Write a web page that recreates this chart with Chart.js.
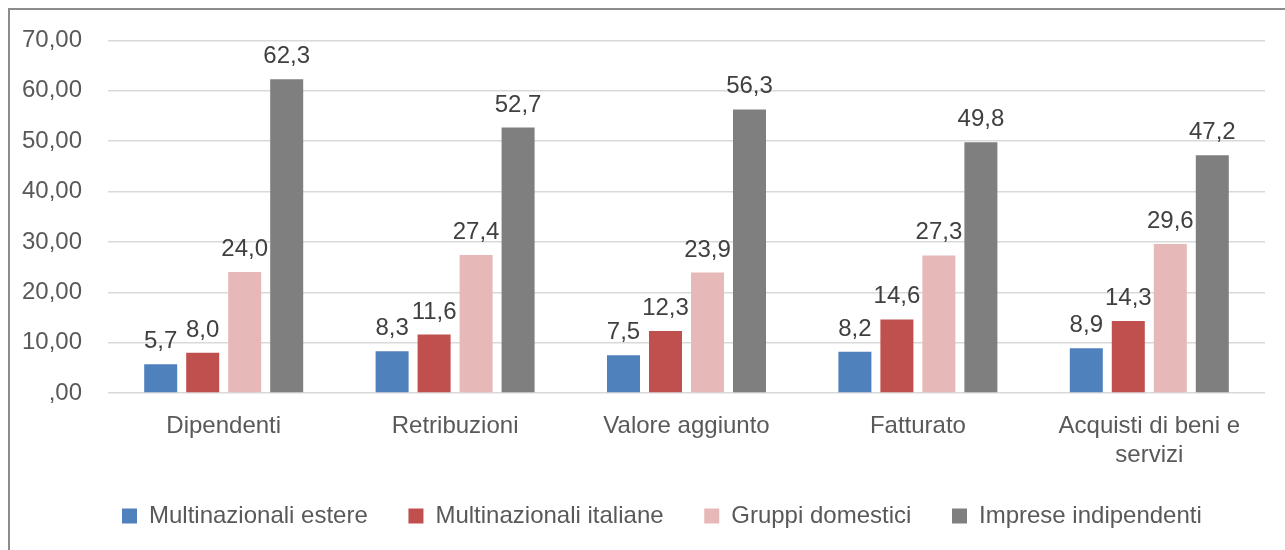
<!DOCTYPE html>
<html>
<head>
<meta charset="utf-8">
<script src="https://cdn.jsdelivr.net/npm/chart.js@4/dist/chart.umd.min.js"></script>
<style>
  html, body { margin: 0; padding: 0; background: #fff; overflow: hidden; }
  .frame {
    position: absolute; left: 8px; top: 8px; width: 1400px; height: 700px;
    border-top: 2px solid #8c8c8c; border-left: 2px solid #8c8c8c;
  }
  #chart { position: absolute; left: 0; top: 0; }
</style>
</head>
<body>
<div class="frame"></div>
<canvas id="chart" width="1285" height="550"></canvas>
<script>
const categories = ['Dipendenti', 'Retribuzioni', 'Valore aggiunto', 'Fatturato', ['Acquisti di beni e', 'servizi']];
const seriesNames = ['Multinazionali estere', 'Multinazionali italiane', 'Gruppi domestici', 'Imprese indipendenti'];
const multinazionaliEstere = [5.7, 8.3, 7.5, 8.2, 8.9];
const multinazionaliItaliane = [8.0, 11.6, 12.3, 14.6, 14.3];
const gruppiDomestici = [24.0, 27.4, 23.9, 27.3, 29.6];
const impreseIndipendenti = [62.3, 52.7, 56.3, 49.8, 47.2];
const colors = ['#4f81bd', '#c0504d', '#e6b9b8', '#7f7f7f'];

const FONT = "'Liberation Sans', Arial, sans-serif";
const FONT_SIZE = 24;

// excel style "#,##0.00" with the leading zero dropped: 0 -> ",00"
const formatTick = (value) => {
  const s = Number(value).toFixed(2).replace('.', ',');
  return s.startsWith('0,') ? s.slice(1) : s;
};

const valueLabels = {
  id: 'valueLabels',
  afterDatasetsDraw(chart) {
    const {ctx} = chart;
    ctx.save();
    ctx.font = `${FONT_SIZE}px ${FONT}`;
    ctx.fillStyle = '#404040';
    ctx.textAlign = 'center';
    ctx.textBaseline = 'alphabetic';
    chart.data.datasets.forEach((dataset, i) => {
      chart.getDatasetMeta(i).data.forEach((bar, j) => {
        const text = dataset.data[j].toFixed(1).replace('.', ',');
        ctx.fillText(text, bar.x, bar.y - 16);
      });
    });
    ctx.restore();
  }
};

const seriesData = [multinazionaliEstere, multinazionaliItaliane, gruppiDomestici, impreseIndipendenti];

new Chart(document.getElementById('chart'), {
  type: 'bar',
  data: {
    labels: categories,
    datasets: seriesData.map((data, i) => ({
      label: seriesNames[i],
      data: data,
      backgroundColor: colors[i],
      categoryPercentage: 0.726,
      barPercentage: 0.786,
    })),
  },
  options: {
    responsive: false,
    animation: false,
    layout: {padding: {left: 0, right: 20, top: 37, bottom: 12}},
    plugins: {
      tooltip: {enabled: false},
      legend: {
        position: 'bottom',
        align: 'start',
        fullSize: false,
        labels: {
          color: '#595959',
          font: {family: FONT, size: FONT_SIZE},
          boxWidth: 15,
          boxHeight: 15,
          padding: 14,
          generateLabels: (chart) => {
            const items = Chart.defaults.plugins.legend.labels.generateLabels(chart);
            return items.map((item, i) => ({
              ...item,
              text: i < items.length - 1 ? item.text + '\u00a0'.repeat(4) : item.text,
            }));
          },
        },
      },
    },
    scales: {
      x: {
        afterFit: (axis) => { axis.height = 97; },
        grid: {display: false, drawTicks: false},
        border: {display: false},
        ticks: {
          color: '#595959',
          font: {family: FONT, size: FONT_SIZE},
          padding: 19,
          maxRotation: 0,
          autoSkip: false,
        },
      },
      y: {
        min: 0,
        max: 70,
        afterFit: (axis) => { axis.width = 108; },
        grid: {color: '#d9d9d9', lineWidth: 1.5, drawTicks: false},
        border: {display: false},
        ticks: {
          stepSize: 10,
          color: '#595959',
          font: {family: FONT, size: FONT_SIZE},
          padding: 26,
          callback: formatTick,
        },
      },
    },
  },
  plugins: [valueLabels],
});
</script>
</body>
</html>
